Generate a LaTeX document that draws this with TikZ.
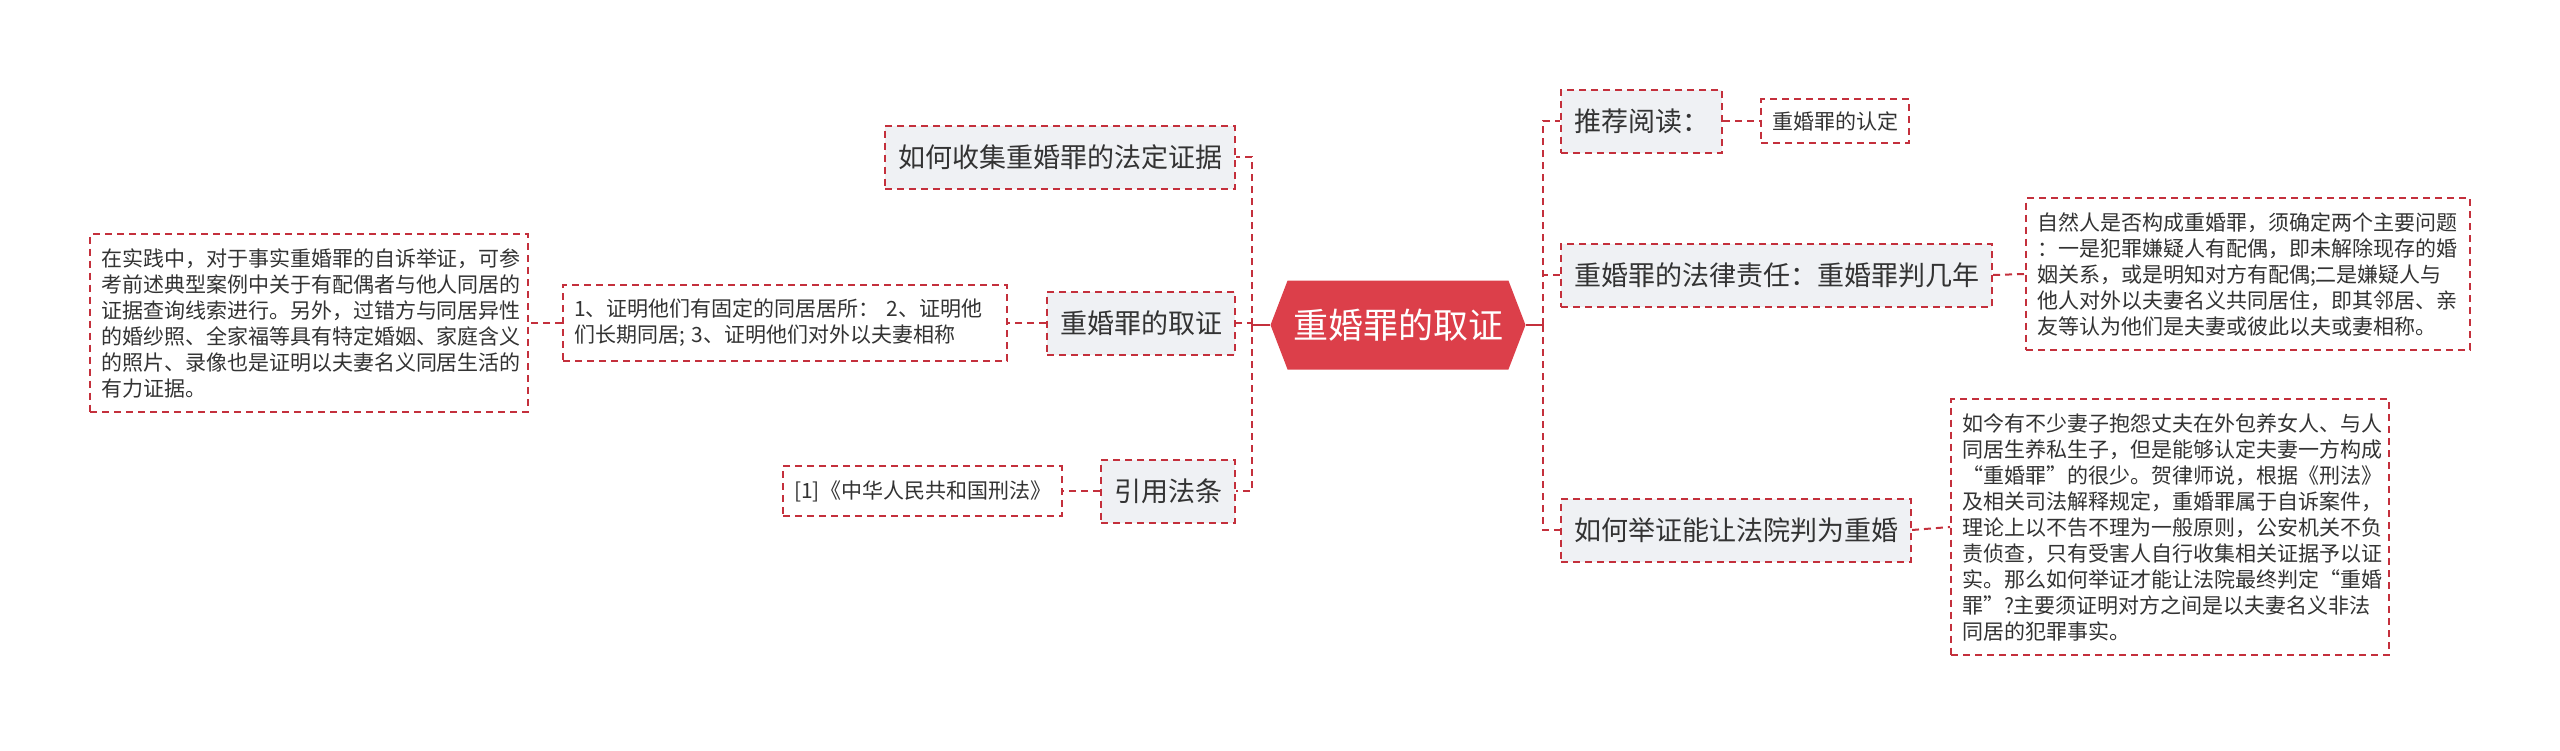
\documentclass[tikz,border=0pt]{standalone}
\usepackage{fontspec}
\setmainfont{Noto Sans CJK SC}
\usetikzlibrary{shapes.symbols}
\definecolor{boxred}{HTML}{C4303C}
\definecolor{rootred}{HTML}{DC3F4A}
\definecolor{topicgray}{HTML}{EFF1F4}
\definecolor{inkgray}{HTML}{333333}

\begin{document}
\begin{tikzpicture}[x=1pt,y=-1pt,
  topic/.style={draw=boxred,line width=2pt,dash pattern=on 7pt off 5pt,fill=topicgray,text=inkgray,
    font=\fontsize{27}{32}\selectfont,inner xsep=13pt,inner ysep=0pt,minimum height=63pt},
  note/.style={draw=boxred,line width=2pt,dash pattern=on 7pt off 5pt,fill=white,text=inkgray,
    font=\fontsize{21}{26}\selectfont,inner xsep=11pt,inner ysep=14pt,align=left},
  wide/.style={text width=422pt},
  root/.style={signal,signal to=west and east,signal pointer angle=138,fill=rootred,text=white,
    font=\fontsize{35}{40}\selectfont,minimum width=255pt,minimum height=89pt,inner sep=0pt},
  spine/.style={boxred,line width=2.6pt,dash pattern=on 7pt off 5pt},
  stem/.style={boxred,line width=2.6pt}]
 \useasboundingbox (0,0) rectangle (2560,750);
 % centre
 \node[root] (root) at (1398,325) {重婚罪的取证};
 \coordinate (ls) at (1252,325);
 \coordinate (rs) at (1543,325);
 % left branch
 \node[topic,anchor=east] (collect) at (1236,157) {如何收集重婚罪的法定证据};
 \node[topic,anchor=east] (proof) at (1236,323) {重婚罪的取证};
 \node[topic,anchor=east] (cite) at (1236,491) {引用法条};
 \node[note,wide,anchor=east] (items) at (1008,323) {1、证明他们有固定的同居居所： 2、证明他\\们长期同居; 3、证明他们对外以夫妻相称};
 \node[note,wide,anchor=east,text width=416pt] (practice) at (529,323) {在实践中，对于事实重婚罪的自诉举证，可参\\考前述典型案例中关于有配偶者与他人同居的\\证据查询线索进行。另外，过错方与同居异性\\的婚纱照、全家福等具有特定婚姻、家庭含义\\的照片、录像也是证明以夫妻名义同居生活的\\有力证据。};
 \node[note,anchor=east] (law) at (1063,491) {[1]《中华人民共和国刑法》};
 % right branch
 \node[topic,anchor=west] (read) at (1560,121) {推荐阅读：};
 \node[note,anchor=west,inner ysep=12pt] (define) at (1760,121) {重婚罪的认定};
 \node[topic,anchor=west] (duty) at (1560,275) {重婚罪的法律责任：重婚罪判几年};
 \node[note,wide,anchor=west] (person) at (2025,274) {自然人是否构成重婚罪，须确定两个主要问题\\：一是犯罪嫌疑人有配偶，即未解除现存的婚\\姻关系，或是明知对方有配偶;二是嫌疑人与\\他人对外以夫妻名义共同居住，即其邻居、亲\\友等认为他们是夫妻或彼此以夫或妻相称。};
 \node[topic,anchor=west] (court) at (1560,530) {如何举证能让法院判为重婚};
 \node[note,wide,anchor=west,text width=416pt] (wives) at (1950,527) {如今有不少妻子抱怨丈夫在外包养女人、与人\\同居生养私生子，但是能够认定夫妻一方构成\\“重婚罪”的很少。贺律师说，根据《刑法》\\及相关司法解释规定，重婚罪属于自诉案件，\\理论上以不告不理为一般原则，公安机关不负\\责侦查，只有受害人自行收集相关证据予以证\\实。那么如何举证才能让法院最终判定“重婚\\罪”?主要须证明对方之间是以夫妻名义非法\\同居的犯罪事实。};
 % connectors
 \draw[stem] (root.west) -- (ls);
 \draw[stem] (root.east) -- (rs);
 \draw[spine] (ls) |- (collect.east);
 \draw[spine] (ls) |- (proof.east);
 \draw[spine] (ls) |- (cite.east);
 \draw[spine] (rs) |- (read.west);
 \draw[spine] (rs) |- (duty.west);
 \draw[spine] (rs) |- (court.west);
 \draw[spine,line width=2pt] (proof.west) -- (items.east);
 \draw[spine,line width=2pt] (items.west) -- (practice.east);
 \draw[spine,line width=2pt] (cite.west) -- (law.east);
 \draw[spine,line width=2pt] (read.east) -- (define.west);
 \draw[spine,line width=2pt] (duty.east) -- (person.west);
 \draw[spine,line width=2pt] (court.east) -- (wives.west);
\end{tikzpicture}
\end{document}
